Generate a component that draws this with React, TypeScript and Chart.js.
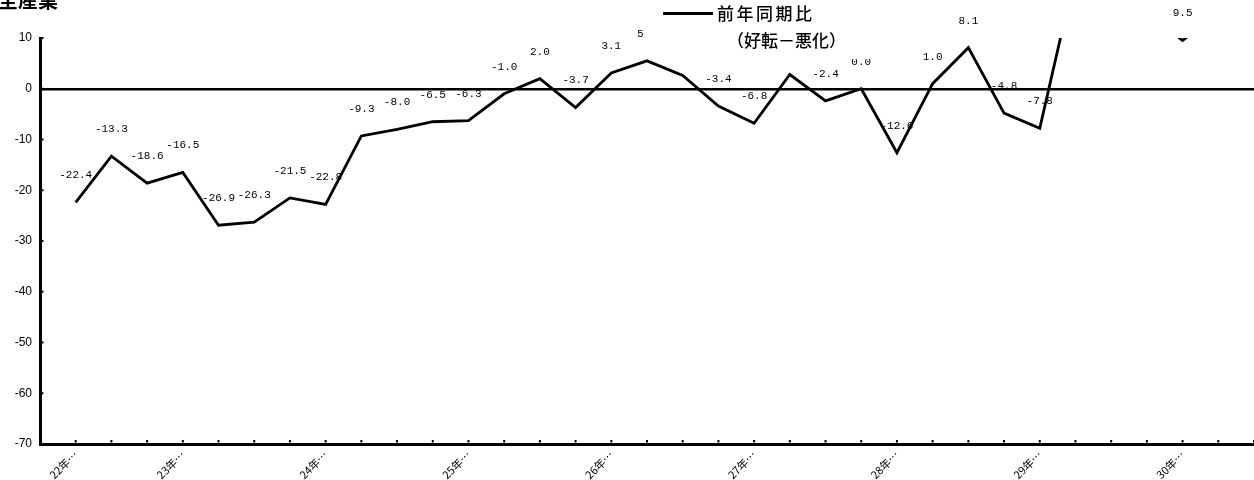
import React, { useEffect, useRef } from "react";
import { Chart, registerables } from "chart.js";

Chart.register(...registerables);

// ---- data ----
const chartTitle = "全産業";
const seriesLabel = "前年同期比";
const seriesSubLabel = "（好転－悪化）";

const categories: string[] = [
  "", "22年…", "", "", "23年…", "", "", "", "24年…", "", "", "", "25年…", "", "", "",
  "26年…", "", "", "", "27年…", "", "", "", "28年…", "", "", "", "29年…", "", "", "",
  "30年…", "", "",
];

const values: (number | null)[] = [
  null, -22.4, -13.3, -18.6, -16.5, -26.9, -26.3, -21.5, -22.8, -9.3, -8.0, -6.5, -6.3,
  -1.0, 2.0, -3.7, 3.1, 5.5, 2.6, -3.4, -6.8, 2.8, -2.4, 0.0, -12.6, 1.0, 8.1, -4.8, -7.8,
  22.9, 20.0, 15.0, 9.5, 15.0, 16.0,
];

const yMin = -70;
const yMax = 10;
const yStep = 10;

const decorPlugin = {
  id: "decor",
  beforeDatasetsDraw(chart: any) {
    const ctx = chart.ctx;
    const meta = chart.getDatasetMeta(0);
    ctx.save();
    ctx.font = "11px 'Liberation Mono', monospace";
    ctx.fillStyle = "#000";
    ctx.textAlign = "center";
    ctx.textBaseline = "middle";
    meta.data.forEach((pt: any, i: number) => {
      const v = values[i];
      if (v === null || v === undefined) return;
      ctx.fillText(v.toFixed(1), pt.x, pt.y - 27);
    });
    ctx.restore();
  },
  afterDraw(chart: any) {
    const ctx = chart.ctx;
    const xs = chart.scales.x;
    const ys = chart.scales.y;
    ctx.save();
    ctx.fillStyle = "#000";
    xs.ticks.forEach((_t: any, i: number) => {
      const px = xs.getPixelForTick(i);
      ctx.fillRect(px - 1, ys.bottom - 4, 2, 2.5);
    });
    ys.ticks.forEach((_t: any, i: number) => {
      const py = ys.getPixelForTick(i);
      ctx.fillRect(xs.left, py - 1, 3.5, 2);
    });

    // legend
    ctx.fillStyle = "#fff";
    ctx.fillRect(643, 0, 237, 59);
    ctx.strokeStyle = "#000";
    ctx.lineWidth = 3;
    ctx.beginPath();
    ctx.moveTo(663, 13.5);
    ctx.lineTo(713, 13.5);
    ctx.stroke();
    ctx.fillStyle = "#000";
    ctx.textAlign = "left";
    ctx.textBaseline = "middle";
    ctx.font = "500 17px 'Noto Sans CJK JP', sans-serif";
    (ctx as any).letterSpacing = "2.5px";
    ctx.fillText(seriesLabel, 717, 14);
    (ctx as any).letterSpacing = "0px";
    ctx.fillText(seriesSubLabel, 727, 41);

    // title (cut at top as in reference)
    ctx.font = "bold 20px 'Noto Sans CJK JP', sans-serif";
    ctx.textBaseline = "alphabetic";
    ctx.fillText(chartTitle, -2, 8);
    ctx.restore();
  },
};

export default function App() {
  const canvasRef = useRef<HTMLCanvasElement | null>(null);

  useEffect(() => {
    document.body.style.margin = "0";
    const canvas = canvasRef.current;
    if (!canvas) return;
    const chart = new Chart(canvas, {
      type: "line",
      data: {
        labels: categories,
        datasets: [
          {
            label: seriesLabel,
            data: values,
            borderColor: "#000",
            backgroundColor: "#000",
            borderWidth: 2.8,
            pointRadius: 0,
            tension: 0,
            spanGaps: false,
          },
        ],
      },
      options: {
        animation: false,
        responsive: false,
        devicePixelRatio: 1,
        layout: { padding: { top: 38, left: 0, right: 0, bottom: 0 } },
        plugins: {
          legend: { display: false },
          title: { display: false },
          tooltip: { enabled: false },
        },
        scales: {
          x: {
            type: "category",
            offset: false,
            grid: {
              display: true,
              drawOnChartArea: false,
              drawTicks: false,
              color: "rgba(0,0,0,0)",
            },
            border: { display: true, color: "#000", width: 3 },
            ticks: {
              autoSkip: false,
              maxRotation: 45,
              minRotation: 45,
              padding: 4,
              color: "#000",
              font: { family: "'Noto Sans CJK JP', sans-serif", size: 11 },
            },
            afterFit: (s: any) => {
              s.height = 36;
              s.paddingLeft = 0;
              s.paddingRight = 0;
            },
          },
          y: {
            min: yMin,
            max: yMax,
            ticks: {
              stepSize: yStep,
              padding: 8,
              color: "#000",
              font: { family: "'Liberation Sans', Arial, sans-serif", size: 12 },
            },
            grid: {
              drawTicks: false,
              color: (c: any) => (c.tick && c.tick.value === 0 ? "#000" : "rgba(0,0,0,0)"),
              lineWidth: (c: any) => (c.tick && c.tick.value === 0 ? 2.5 : 0),
            },
            border: { display: true, color: "#000", width: 3 },
            afterFit: (s: any) => {
              s.width = 40;
              s.paddingTop = 0;
              s.paddingBottom = 0;
            },
          },
        },
      },
      plugins: [decorPlugin],
    });
    return () => chart.destroy();
  }, []);

  return (
    <div style={{ position: "absolute", left: 0, top: 0, width: 1254, height: 480, background: "#fff" }}>
      <canvas ref={canvasRef} width={1254} height={480} />
    </div>
  );
}
